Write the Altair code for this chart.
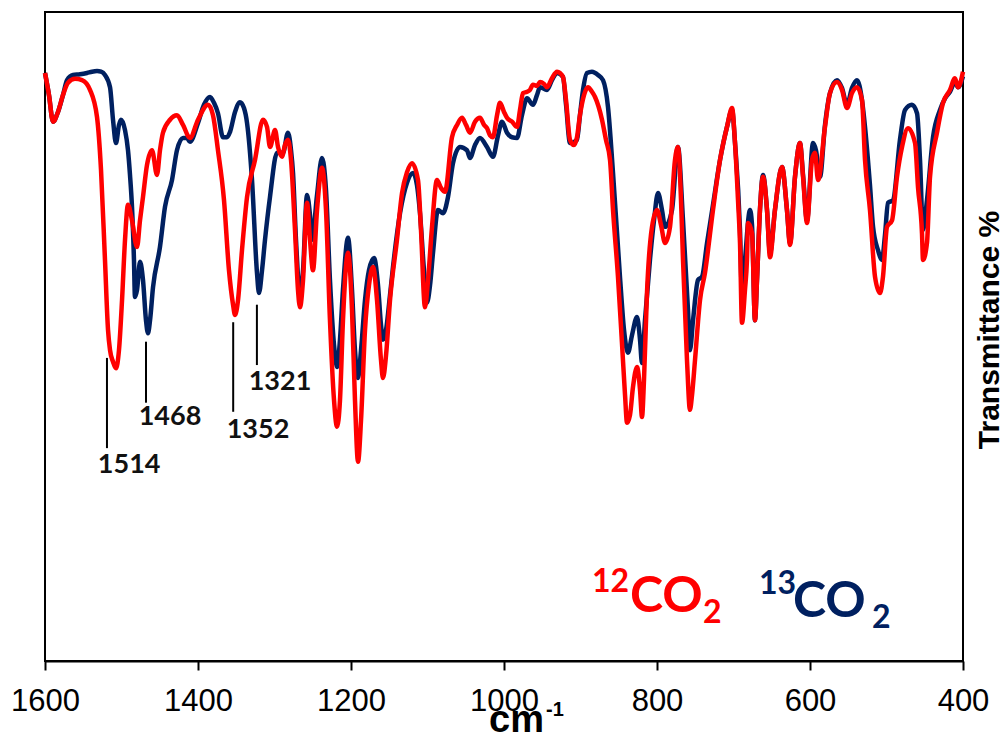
import altair as alt
import pandas as pd

# ---------------- data ----------------
wn_12 = [1600, 1594.8, 1589.5, 1583.0, 1576.5, 1569.9, 1560.8, 1551.6, 1541.2, 1532.0,
         1526.8, 1521.6, 1517.6, 1515.0, 1511.1, 1507.2, 1503.3, 1499.3, 1495.4, 1491.5,
         1486.3, 1479.7, 1475.8, 1471.9, 1466.7, 1460.1, 1453.6, 1449.7, 1445.8, 1436.6,
         1427.5, 1419.6, 1410.5, 1400.0, 1386.9, 1380.4, 1373.9, 1366.0, 1359.5, 1354.2,
         1351.6, 1347.7, 1342.5, 1335.9, 1325.5, 1315.0, 1309.8, 1305.9, 1299.3, 1295.4,
         1290.2, 1286.3, 1282.4, 1278.4, 1273.2, 1269.3, 1266.7, 1262.7, 1257.5, 1253.6,
         1249.7, 1244.4, 1237.9, 1232.7, 1227.5, 1222.2, 1218.3, 1214.4, 1210.5, 1203.9,
         1198.7, 1194.8, 1190.8, 1186.9, 1181.7, 1176.5, 1171.2, 1166.0, 1160.8, 1158.2,
         1154.2, 1149.0, 1139.9, 1133.3, 1126.8, 1120.3, 1112.4, 1108.5, 1103.3, 1099.3,
         1094.1, 1087.6, 1082.4, 1077.1, 1068.0, 1061.4, 1054.9, 1049.7, 1044.4, 1037.9,
         1031.4, 1026.1, 1022.2, 1018.3, 1014.4, 1009.1, 1005.2, 1000.0, 996.1, 989.5,
         983.0, 979.1, 975.2, 969.9, 966.0, 962.1, 956.9, 952.9, 947.7, 943.8,
         937.3, 930.7, 926.8, 922.9, 918.9, 913.7, 908.5, 904.6, 900.7, 895.4,
         890.2, 885.0, 881.0, 871.9, 866.7, 861.4, 857.5, 851.0, 845.8, 841.8,
         839.2, 835.3, 831.4, 826.1, 822.2, 819.6, 817.0, 813.1, 806.5, 800.0,
         794.8, 789.5, 783.0, 776.5, 772.6, 768.6, 766.0, 760.8, 756.9, 754.2,
         750.3, 743.8, 737.3, 726.8, 717.6, 708.5, 701.9, 698.0, 694.1, 691.5,
         688.9, 685.0, 682.4, 681.0, 675.8, 671.9, 669.3, 665.4, 661.4, 656.2,
         652.3, 645.8, 636.6, 630.1, 626.1, 619.6, 613.1, 609.1, 603.9, 597.4,
         593.5, 589.5, 580.4, 573.9, 564.7, 558.2, 551.6, 545.1, 538.6, 532.0,
         528.1, 521.6, 515.0, 508.5, 504.6, 499.3, 492.8, 486.3, 479.7, 471.9,
         462.7, 458.8, 453.6, 452.3, 447.1, 443.1, 434.0, 426.1, 417.0, 410.5,
         406.5, 400.0]
t_12 = [90.6, 87.2, 83.1, 84.6, 87.2, 89.1, 89.7, 89.5, 88.0, 83.8,
        75.7, 61.8, 51.0, 47.9, 46.1, 45.1, 47.9, 55.6, 64.9, 70.3,
        67.9, 63.8, 67.9, 71.5, 76.4, 78.7, 74.9, 78.7, 81.4, 83.4,
        84.1, 82.6, 80.6, 83.4, 85.7, 84.1, 78.7, 71.0, 60.2, 54.9,
        53.3, 55.6, 63.3, 71.5, 77.2, 83.4, 82.3, 79.2, 81.8, 79.2,
        77.7, 79.5, 80.3, 77.2, 66.4, 57.2, 54.5, 58.7, 70.6, 64.9,
        60.2, 69.5, 76.0, 69.5, 52.5, 40.2, 36.1, 40.2, 52.5, 62.9,
        54.1, 40.2, 30.7, 37.1, 51.0, 57.9, 60.7, 55.6, 46.4, 43.6,
        47.1, 55.6, 64.9, 72.1, 75.3, 76.7, 74.1, 66.4, 54.5, 58.7,
        66.9, 74.1, 72.9, 72.3, 80.7, 82.6, 83.7, 82.6, 81.4, 83.1,
        83.7, 82.6, 82.1, 81.0, 80.7, 84.1, 86.0, 84.6, 83.7, 83.1,
        82.3, 84.9, 87.5, 87.7, 88.0, 88.8, 88.6, 89.2, 88.9, 88.4,
        89.8, 90.8, 90.6, 90.0, 86.4, 80.3, 79.5, 80.7, 84.1, 87.2,
        88.4, 87.7, 86.9, 83.4, 80.3, 77.2, 69.5, 59.2, 49.0, 41.0,
        36.7, 37.9, 42.2, 45.3, 41.8, 37.6, 43.3, 56.7, 66.9, 69.5,
        67.2, 64.4, 66.9, 77.2, 79.2, 71.0, 61.8, 46.4, 38.7, 41.0,
        46.4, 55.6, 59.8, 69.5, 77.2, 82.3, 85.2, 79.8, 71.0, 64.4,
        52.1, 57.2, 61.8, 67.5, 65.9, 52.5, 58.7, 69.5, 74.6, 69.5,
        62.2, 69.5, 76.1, 69.5, 64.1, 74.6, 79.8, 74.6, 67.5, 77.2,
        78.3, 74.1, 82.3, 87.5, 89.2, 88.0, 85.2, 87.5, 88.4, 86.4,
        77.2, 69.5, 59.2, 56.7, 59.2, 66.9, 67.9, 74.6, 79.2, 82.1,
        79.8, 73.0, 65.9, 61.8, 64.4, 74.6, 81.4, 86.0, 88.0, 89.8,
        88.4, 90.8]

wn_13 = [1600, 1594.8, 1589.5, 1583.0, 1576.5, 1571.2, 1563.4, 1554.3, 1545.1, 1538.6,
         1532.0, 1526.8, 1521.6, 1515.0, 1511.1, 1507.2, 1503.3, 1500.7, 1495.4, 1491.5,
         1488.9, 1486.3, 1483.7, 1482.4, 1479.7, 1475.8, 1471.9, 1468.0, 1465.4, 1462.7,
         1458.8, 1449.7, 1443.1, 1434.0, 1427.5, 1419.6, 1414.4, 1410.5, 1400.0, 1392.2,
         1384.3, 1379.1, 1373.9, 1367.3, 1362.1, 1358.2, 1351.6, 1345.1, 1339.9, 1335.9,
         1329.4, 1322.9, 1320.3, 1316.3, 1312.4, 1305.9, 1296.7, 1288.9, 1282.4, 1278.4,
         1275.8, 1271.9, 1266.7, 1262.7, 1257.5, 1253.6, 1251.0, 1244.4, 1237.9, 1232.7,
         1227.5, 1222.2, 1218.3, 1214.4, 1210.5, 1203.9, 1198.7, 1194.8, 1190.8, 1186.9,
         1181.7, 1176.5, 1169.9, 1164.7, 1160.8, 1158.2, 1154.2, 1149.0, 1145.1, 1135.9,
         1126.8, 1118.9, 1113.7, 1109.8, 1104.6, 1100.7, 1096.7, 1092.8, 1086.3, 1079.7,
         1073.2, 1066.7, 1057.5, 1048.4, 1044.4, 1037.9, 1031.4, 1022.2, 1014.4, 1007.8,
         1002.6, 996.1, 989.5, 983.0, 976.5, 969.9, 962.1, 956.9, 952.9, 943.8,
         937.3, 930.7, 922.9, 918.9, 913.7, 904.6, 900.7, 896.7, 891.5, 885.0,
         877.1, 870.6, 864.1, 857.5, 848.4, 843.1, 837.9, 832.7, 826.1, 822.2,
         819.6, 815.7, 809.2, 803.9, 798.7, 793.5, 789.5, 780.4, 772.6, 766.0,
         759.5, 756.9, 752.9, 746.4, 741.2, 734.6, 726.8, 717.6, 708.5, 701.9,
         698.0, 691.5, 688.9, 685.0, 678.4, 675.8, 671.9, 669.3, 665.4, 661.4,
         656.2, 652.3, 645.8, 636.6, 630.1, 626.1, 619.6, 613.1, 609.1, 603.9,
         596.1, 592.2, 586.9, 580.4, 573.9, 564.7, 558.2, 551.6, 545.1, 538.6,
         532.0, 528.1, 521.6, 517.6, 511.1, 505.9, 502.0, 498.0, 491.5, 482.4,
         475.8, 466.7, 460.1, 456.2, 452.3, 447.1, 439.2, 430.1, 423.5, 417.0,
         410.5, 406.5, 400.0]
t_13 = [90.6, 87.2, 83.1, 84.6, 87.2, 89.5, 90.3, 90.4, 90.6, 90.8,
        90.9, 90.8, 90.3, 88.4, 83.4, 79.8, 82.6, 83.4, 81.8, 78.7,
        74.9, 70.0, 61.8, 56.1, 57.2, 61.5, 58.7, 52.5, 50.5, 52.5,
        57.6, 63.8, 70.0, 74.1, 78.7, 80.6, 80.6, 80.0, 82.9, 85.7,
        86.9, 86.0, 84.4, 80.7, 80.7, 81.5, 84.6, 86.1, 85.2, 82.9,
        74.1, 59.8, 56.7, 60.2, 64.9, 71.5, 78.3, 78.3, 81.4, 78.7,
        75.2, 64.9, 56.4, 60.2, 71.8, 68.7, 64.9, 71.8, 77.5, 72.6,
        58.7, 48.7, 45.3, 49.5, 57.2, 65.2, 57.2, 47.9, 43.6, 47.9,
        55.6, 60.2, 62.1, 57.9, 51.8, 49.5, 51.0, 56.4, 60.7, 69.0,
        73.7, 75.2, 73.3, 69.0, 60.2, 55.2, 57.9, 62.9, 69.5, 69.0,
        71.5, 76.7, 79.2, 78.7, 77.5, 79.5, 80.6, 79.2, 77.7, 81.0,
        83.1, 81.4, 80.7, 80.6, 84.1, 86.7, 85.7, 87.2, 88.4, 88.0,
        89.5, 90.6, 90.0, 85.7, 79.8, 80.3, 84.1, 88.0, 90.6, 90.8,
        90.3, 89.5, 85.4, 75.2, 59.2, 51.0, 47.5, 50.2, 53.0, 49.5,
        45.9, 52.5, 61.8, 67.9, 72.1, 69.5, 66.9, 69.5, 79.2, 67.9,
        54.1, 47.9, 52.5, 58.7, 59.2, 64.4, 70.3, 77.2, 82.3, 84.9,
        79.8, 66.4, 56.7, 61.8, 69.5, 67.2, 52.5, 58.7, 69.5, 74.9,
        69.5, 62.9, 69.5, 76.1, 69.5, 64.4, 74.6, 79.8, 74.9, 67.9,
        79.8, 78.7, 74.6, 82.6, 87.5, 89.5, 88.3, 85.7, 88.3, 89.5,
        86.4, 82.3, 73.3, 66.9, 63.3, 61.8, 65.6, 70.6, 71.0, 80.3,
        84.9, 85.7, 84.4, 77.2, 66.4, 71.0, 80.7, 84.9, 86.7, 87.7,
        89.2, 88.4, 90.1]

x_ticks = [1600, 1400, 1200, 1000, 800, 600, 400]

# peak annotations
ann_label = ["1514", "1468", "1352", "1321"]
ann_line_wn = [1519, 1468, 1354, 1323]
ann_line_top = [46.7, 49.2, 52.2, 54.9]
ann_line_bot = [32.8, 39.8, 38.4, 45.6]
ann_text_wn = [1490, 1436.6, 1321.6, 1292.8]
ann_text_t = [29.0, 36.4, 34.4, 41.8]

# legend-like labels  (12CO2 red, 13CO2 navy)
leg_text = ["12", "CO", "2", "13", "CO", "2"]
leg_wn = [885, 835.3, 739.9, 666.7, 622.2, 518.9]
leg_t = [10.6, 7.55, 5.9, 10.3, 6.8, 5.1]
leg_size = [32, 50, 32, 32, 50, 32]
leg_color = ["#FF0000", "#FF0000", "#FF0000", "#002060", "#002060", "#002060"]

assert len(wn_12) == len(t_12)
assert len(wn_13) == len(t_13)

RED = "#FF0000"
NAVY = "#002060"

df12 = pd.DataFrame({"wn": wn_12, "t": t_12})
df13 = pd.DataFrame({"wn": wn_13, "t": t_13})
df_ann = pd.DataFrame({"label": ann_label, "lw": ann_line_wn, "top": ann_line_top,
                       "bot": ann_line_bot, "tw": ann_text_wn, "tt": ann_text_t})
df_leg = pd.DataFrame({"text": leg_text, "wn": leg_wn, "t": leg_t,
                       "size": leg_size, "color": leg_color})

x_scale = alt.Scale(domain=[400, 1600], reverse=True, nice=False, zero=False)
y_scale = alt.Scale(domain=[0, 100], nice=False, zero=False)

x_axis = alt.Axis(values=x_ticks, title=None, grid=False, format="d",
                  labelFont="Liberation Sans", labelFontSize=31,
                  labelColor="#000000", labelPadding=16,
                  labelFlush=False, labelOverlap=False,
                  tickSize=9, tickWidth=2, tickColor="#000000",
                  domainColor="#000000", domainWidth=2)


def X(field):
    return alt.X(field, type="quantitative", scale=x_scale, axis=x_axis)


def Y(field):
    return alt.Y(field, type="quantitative", scale=y_scale, axis=None)


line13 = alt.Chart(df13).mark_line(color=NAVY, strokeWidth=4.5, interpolate="monotone").encode(
    x=X("wn"), y=Y("t"))
line12 = alt.Chart(df12).mark_line(color=RED, strokeWidth=4.5, interpolate="monotone").encode(
    x=X("wn"), y=Y("t"))

ann_rules = alt.Chart(df_ann).mark_rule(color="#000000", strokeWidth=2).encode(
    x=X("lw"), y=Y("top"), y2="bot")
ann_texts = alt.Chart(df_ann).mark_text(
    font="Lato", fontWeight="bold", fontSize=27, color="#111111",
    align="center", baseline="alphabetic").encode(
    x=X("tw"), y=Y("tt"), text="label")

leg = alt.Chart(df_leg).mark_text(font="Lato", fontWeight="bold",
                                   align="left", baseline="alphabetic").encode(
    x=X("wn"), y=Y("t"), text="text",
    size=alt.Size("size:Q", scale=None, legend=None),
    color=alt.Color("color:N", scale=None, legend=None))

# x-axis title cm-1 and right-hand title
cm_df = pd.DataFrame({"s": ["cm"]})
cm_text = alt.Chart(cm_df).mark_text(
    font="Liberation Sans", fontWeight="bold", fontSize=38, color="#000000",
    align="left", baseline="alphabetic").encode(
    x=alt.value(444), y=alt.value(720), text="s")
sup_df = pd.DataFrame({"s": ["-1"]})
sup_text = alt.Chart(sup_df).mark_text(
    font="Liberation Sans", fontWeight="bold", fontSize=20, color="#000000",
    align="left", baseline="alphabetic").encode(
    x=alt.value(501), y=alt.value(704), text="s")
ttl_df = pd.DataFrame({"s": ["Transmittance %"]})
ttl_text = alt.Chart(ttl_df).mark_text(
    font="Liberation Sans", fontWeight="bold", fontSize=30, color="#000000",
    align="center", baseline="middle", angle=270).encode(
    x=alt.value(945), y=alt.value(318), text="s")

chart = alt.layer(line13, line12, ann_rules, ann_texts, leg, cm_text, sup_text, ttl_text).properties(
    width=918, height=649,
    autosize=alt.AutoSizeParams(type="none"),
    padding={"left": 45, "top": 12, "right": 42, "bottom": 75},
    background="white",
).configure_view(stroke="#000000", strokeWidth=2)

chart.save("out.html", embed_options={"renderer": "svg", "actions": False})
